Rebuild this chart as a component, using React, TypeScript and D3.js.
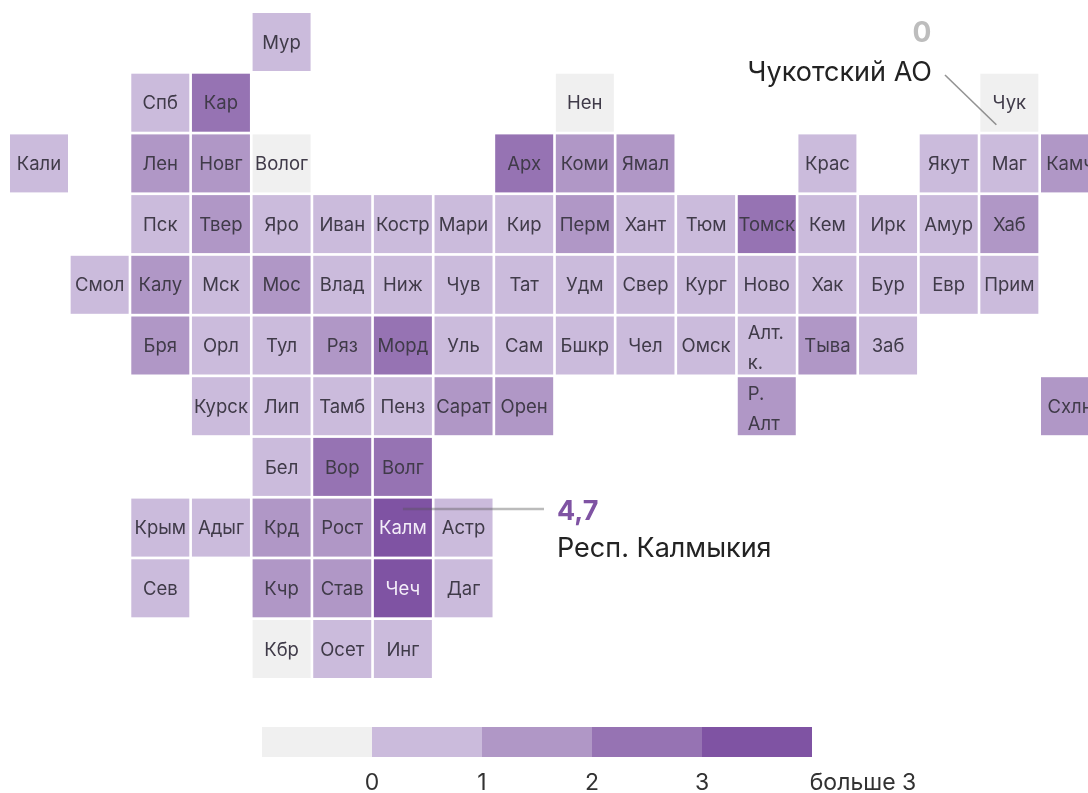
import React from 'react'
import * as d3 from 'd3'

// one list per row of the tile map, null = empty column
const row0 = [null, null, null, null, 'Мур']
const row1 = [null, null, 'Спб', 'Кар', null, null, null, null, null, 'Нен', null, null, null, null, null, null, 'Чук']
const row2 = [
    'Кали', null, 'Лен', 'Новг', 'Волог', null, null, null, 'Арх', 'Коми', 'Ямал', null, null, 'Крас', null, 'Якут', 'Маг', 'Камч',
]
const row3 = [
    null, null, 'Пск', 'Твер', 'Яро', 'Иван', 'Костр', 'Мари', 'Кир', 'Перм', 'Хант', 'Тюм', 'Томск', 'Кем', 'Ирк', 'Амур', 'Хаб',
]
const row4 = [
    null, 'Смол', 'Калу', 'Мск', 'Мос', 'Влад', 'Ниж', 'Чув', 'Тат', 'Удм', 'Свер', 'Кург', 'Ново', 'Хак', 'Бур', 'Евр', 'Прим',
]
const row5 = [null, null, 'Бря', 'Орл', 'Тул', 'Ряз', 'Морд', 'Уль', 'Сам', 'Бшкр', 'Чел', 'Омск', 'Алт. к.', 'Тыва', 'Заб']
const row6 = [
    null, null, null, 'Курск', 'Лип', 'Тамб', 'Пенз', 'Сарат', 'Орен', null, null, null, 'Р. Алт', null, null, null, null, 'Схлн',
]
const row7 = [null, null, null, null, 'Бел', 'Вор', 'Волг']
const row8 = [null, null, 'Крым', 'Адыг', 'Крд', 'Рост', 'Калм', 'Астр']
const row9 = [null, null, 'Сев', null, 'Кчр', 'Став', 'Чеч', 'Даг']
const row10 = [null, null, null, null, 'Кбр', 'Осет', 'Инг']
const rows = [row0, row1, row2, row3, row4, row5, row6, row7, row8, row9, row10]

// values (only the class is visible)
const values: Record<string, number> = {
    Мур: 0.6, Спб: 0.7, Кар: 2.4, Нен: 0, Чук: 0,
    Кали: 0.6, Лен: 1.4, Новг: 1.5, Волог: 0, Арх: 2.5, Коми: 1.6, Ямал: 1.5, Крас: 0.7, Якут: 0.6, Маг: 0.8, Камч: 1.6,
    Пск: 0.8, Твер: 1.5, Яро: 0.7, Иван: 0.6, Костр: 0.7, Мари: 0.5, Кир: 0.8, Перм: 1.6, Хант: 0.5, Тюм: 0.6, Томск: 2.6, Кем: 0.7, Ирк: 0.6, Амур: 0.7, Хаб: 1.5,
    Смол: 0.7, Калу: 1.3, Мск: 0.6, Мос: 1.4, Влад: 0.7, Ниж: 0.6, Чув: 0.5, Тат: 0.4, Удм: 0.6, Свер: 0.7, Кург: 0.6, Ново: 0.7, Хак: 0.8, Бур: 0.6, Евр: 0.5, Прим: 0.8,
    Бря: 1.4, Орл: 0.7, Тул: 0.8, Ряз: 1.5, Морд: 2.7, Уль: 0.7, Сам: 0.6, Бшкр: 0.7, Чел: 0.6, Омск: 0.7, 'Алт. к.': 0.8, Тыва: 1.5, Заб: 0.7,
    Курск: 0.7, Лип: 0.8, Тамб: 0.6, Пенз: 0.7, Сарат: 1.5, Орен: 1.4, 'Р. Алт': 1.3, Схлн: 1.4,
    Бел: 0.8, Вор: 2.3, Волг: 2.5,
    Крым: 0.6, Адыг: 0.7, Крд: 1.6, Рост: 1.4, Калм: 4.7, Астр: 0.8,
    Сев: 0.7, Кчр: 1.7, Став: 1.5, Чеч: 3.9, Даг: 0.8,
    Кбр: 0, Осет: 0.7, Инг: 0.9,
}

const legendStops = [0, 1, 2, 3]
const legendLabels = ['0', '1', '2', '3', 'больше 3']
const classColors = ['#f0f0f0', '#cbbbdc', '#b097c6', '#9673b3', '#7f52a3']

const FONT = 'Inter, Roboto, sans-serif'

export default function App() {
    // tile grid
    const x = d3.scaleLinear().domain([0, 17]).range([10, 1041])
    const y = d3.scaleLinear().domain([0, 10]).range([13, 620])
    const tile = 58

    // 0 exactly is its own grey class
    const color = d3
        .scaleThreshold<number, string>()
        .domain([1e-6, 1, 2, 3])
        .range(classColors)

    const cells = rows.flatMap((r, ri) =>
        r.flatMap((name, ci) => (name ? [{ name, row: ri, col: ci, value: values[name] }] : [])),
    )

    const legendX = d3.scaleLinear().domain([-1, 0, 4]).range([262, 372, 812])

    return (
        <svg
            width={1088}
            height={793}
            style={{ position: 'absolute', left: 0, top: 0, fontFamily: FONT }}
        >
            <defs>
                <filter id="soft" x="-5%" y="-5%" width="110%" height="110%">
                    <feGaussianBlur stdDeviation="0.6" />
                </filter>
            </defs>
            <g filter="url(#soft)">
                {cells.map((d) => {
                    const parts = d.name.includes('. ') ? d.name.split(' ') : [d.name]
                    const white = d.value >= 3
                    const fill = white ? '#f3edf8' : '#3f3a48'
                    const cx = x(d.col) + tile / 2
                    const cy = y(d.row) + tile / 2
                    return (
                        <g key={d.name}>
                            <rect x={x(d.col)} y={y(d.row)} width={tile} height={tile} fill={color(d.value)} />
                            {parts.length === 1 ? (
                                <text x={cx} y={cy} dy="0.36em" textAnchor="middle" fontSize={18.5} fill={fill}>
                                    {d.name}
                                </text>
                            ) : (
                                parts.map((p, i) => (
                                    <text key={p} x={x(d.col) + 10} y={cy + (i === 0 ? -13 : 17)} dy="0.36em" fontSize={18.5} fill={fill}>
                                        {d.name === 'Р. Алт' || i === 0 ? p : p}
                                    </text>
                                ))
                            )}
                        </g>
                    )
                })}

                {/* callouts */}
                <line x1={945} y1={75} x2={x(16) + 16} y2={y(1) + 51} stroke="#6f6f6f" strokeOpacity={0.75} strokeWidth={1.6} />
                <text x={922} y={42} textAnchor="middle" fontSize={28} fontWeight={700} fill="#bdbdbd">0</text>
                <text x={932} y={81} textAnchor="end" fontSize={27} fill="#222">Чукотский АО</text>

                <line x1={x(6) + 29} y1={509} x2={544} y2={509} stroke="#555" strokeOpacity={0.4} strokeWidth={2.4} />
                <text x={557} y={520} fontSize={27} fontWeight={700} fill="#7f52a3">4,7</text>
                <text x={557} y={557} fontSize={27} fill="#222">Респ. Калмыкия</text>

                {/* legend */}
                {classColors.map((c, i) => (
                    <rect key={c} x={legendX(i - 1)} y={727} width={legendX(i) - legendX(i - 1)} height={30} fill={c} />
                ))}
                {legendLabels.map((l, i) => (
                    <text
                        key={l}
                        x={i < legendStops.length ? legendX(legendStops[i]) : 863}
                        y={790}
                        textAnchor="middle"
                        fontSize={23}
                        fill="#333"
                    >
                        {l}
                    </text>
                ))}
            </g>
        </svg>
    )
}
